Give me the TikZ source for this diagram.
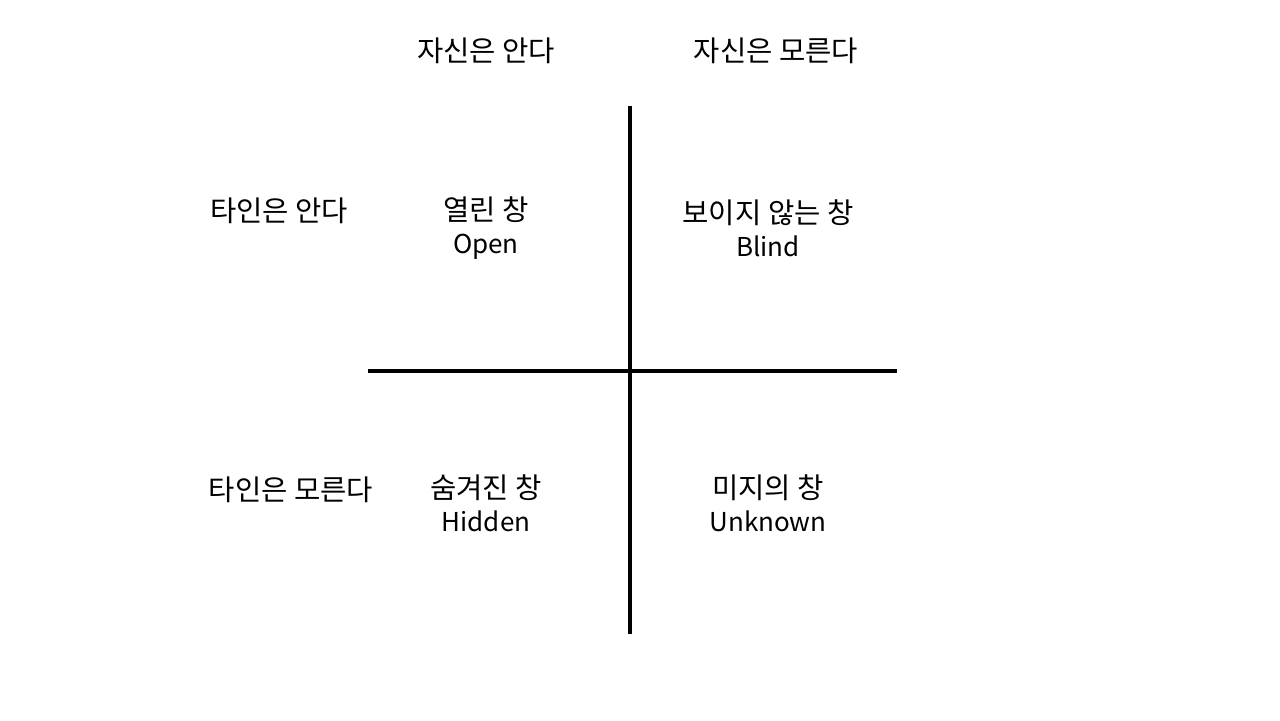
\documentclass[tikz,border=0pt]{standalone}
\usepackage{fontspec}
\setmainfont{Noto Sans CJK KR}
\newfontfamily\krfont[Scale=1.1]{Noto Sans CJK KR}
\begin{document}
\begin{tikzpicture}[x=0.02cm,y=-0.02cm,
  lbl/.style={font=\fontsize{14.8pt}{18.7pt}\selectfont,inner sep=0pt,align=center,anchor=center},
  axis/.style={line width=2pt,black}]
\useasboundingbox[fill=white] (0,0) rectangle (1280,720);
\coordinate (vt) at (630,106);
\coordinate (vb) at (630,634);
\coordinate (hl) at (368,371);
\coordinate (hr) at (897,371);
\draw[axis] (vt) -- (vb);
\draw[axis] (hl) -- (hr);
\node[lbl] (sk) at (486,51) {\krfont 자신은 안다};
\node[lbl] (su) at (776,51) {\krfont 자신은 모른다};
\node[lbl] (tk) at (279,211) {\krfont 타인은 안다};
\node[lbl] (tu) at (291,490) {\krfont 타인은 모른다};
\node[lbl] (open) at (486,228) {{\krfont 열린 창}\\Open};
\node[lbl] (blind) at (768,228) {{\krfont 보이지 않는 창}\\Blind};
\node[lbl] (hidden) at (486,503) {{\krfont 숨겨진 창}\\Hidden};
\node[lbl] (unknown) at (768,503) {{\krfont 미지의 창}\\Unknown};
\end{tikzpicture}
\end{document}
